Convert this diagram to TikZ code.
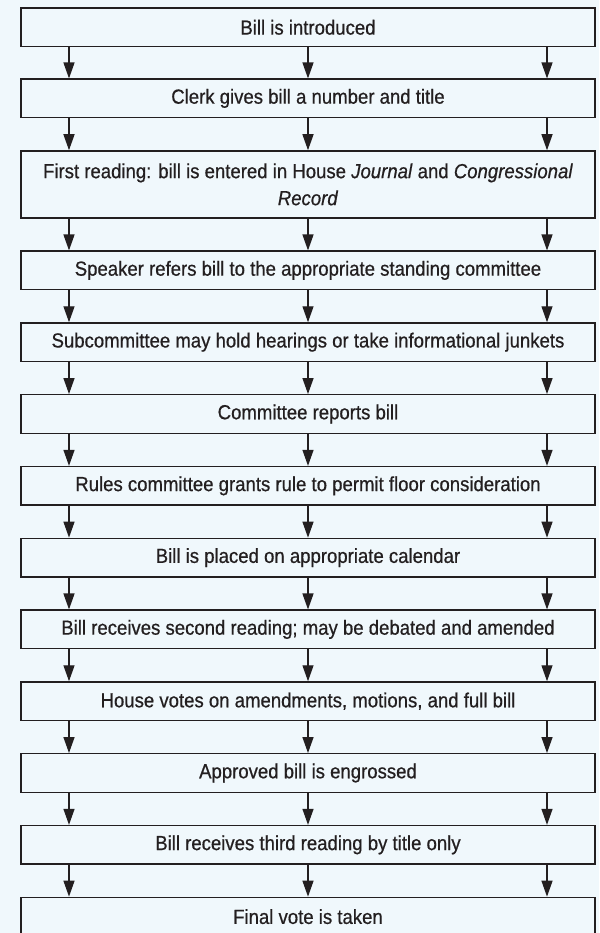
\documentclass[tikz,border=0pt]{standalone}
\usepackage{fontspec}
\setmainfont{Liberation Sans}[FakeStretch=0.91,FakeBold=0.6]
\usetikzlibrary{arrows.meta}
\definecolor{paleblue}{RGB}{240,248,252}
\definecolor{ink}{RGB}{35,31,32}
\tikzset{
  stepbox/.style={draw=ink, line width=1.3pt, fill=paleblue, minimum width=574pt,
    minimum height=38.6pt, inner sep=0pt, align=center, text=ink,
    font=\fontsize{20.4}{27}\selectfont},
  flow/.style={draw=ink, line width=1.3pt, -{Triangle[length=16pt,width=11pt]}}
}
\begin{document}
\begin{tikzpicture}[x=1pt,y=-1pt]
	\fill[paleblue] (0,0) rectangle (599,933);
	\useasboundingbox (0,0) rectangle (599,933);
	\clip (0,0) rectangle (599,933);
	\coordinate (L) at (69,0);
	\coordinate (M) at (308,0);
	\coordinate (R) at (547,0);
	\node[stepbox] (b1) at (308,27.3) {Bill is introduced};
	\node[stepbox] (b2) at (308,98.4) {Clerk gives bill a number and title};
	\node[stepbox, minimum height=67pt] (b3) at (308,184.4) {First reading: bill is entered in House \textit{Journal} and \textit{Congressional}\\\textit{Record}};
	\node[stepbox] (b4) at (308,270.4) {Speaker refers bill to the appropriate standing committee};
	\node[stepbox] (b5) at (308,342.2) {Subcommittee may hold hearings or take informational junkets};
	\node[stepbox] (b6) at (308,414.0) {Committee reports bill};
	\node[stepbox] (b7) at (308,485.8) {Rules committee grants rule to permit floor consideration};
	\node[stepbox] (b8) at (308,557.6) {Bill is placed on appropriate calendar};
	\node[stepbox] (b9) at (308,629.4) {Bill receives second reading; may be debated and amended};
	\node[stepbox] (b10) at (308,701.2) {House votes on amendments, motions, and full bill};
	\node[stepbox] (b11) at (308,773.0) {Approved bill is engrossed};
	\node[stepbox] (b12) at (308,844.8) {Bill receives third reading by title only};
	\node[stepbox] (b13) at (308,916.6) {Final vote is taken};
	\foreach \a/\b in {b1/b2,b2/b3,b3/b4,b4/b5,b5/b6,b6/b7,b7/b8,b8/b9,b9/b10,b10/b11,b11/b12,b12/b13}
		\foreach \c in {L,M,R}
			\draw[flow] (\a.south -| \c) -- (\b.north -| \c);
\end{tikzpicture}
\end{document}
